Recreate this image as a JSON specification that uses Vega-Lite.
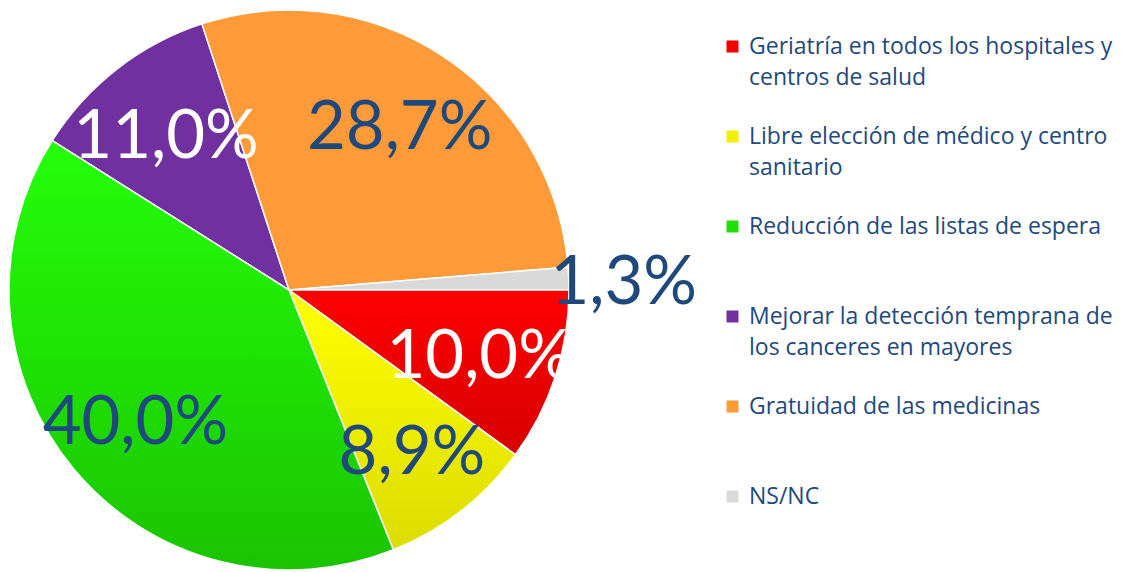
{
  "$schema": "https://vega.github.io/schema/vega-lite/v6.json",
  "width": 578,
  "height": 560,
  "autosize": {"type": "none"},
  "padding": {"left": 0, "top": 10, "right": 548, "bottom": 2},
  "background": "white",
  "data": {
    "values": [
      {"categoria": "Geriatría en todos los hospitales y centros de salud", "valor": 10.0, "etiqueta": "10,0%", "orden": 1},
      {"categoria": "Libre elección de médico y centro sanitario", "valor": 8.9, "etiqueta": "8,9%", "orden": 2},
      {"categoria": "Reducción de las listas de espera", "valor": 40.0, "etiqueta": "40,0%", "orden": 3},
      {"categoria": "Mejorar la detección temprana de los canceres en mayores", "valor": 11.0, "etiqueta": "11,0%", "orden": 4},
      {"categoria": "Gratuidad de las medicinas", "valor": 28.7, "etiqueta": "28,7%", "orden": 5},
      {"categoria": "NS/NC", "valor": 1.3, "etiqueta": "1,3%", "orden": 6}
    ]
  },
  "encoding": {
    "theta": {"field": "valor", "type": "quantitative", "stack": true, "scale": {"range": [1.5707963, 7.8539816]}},
    "order": {"field": "orden", "type": "quantitative"}
  },
  "layer": [
    {
      "mark": {"type": "arc", "outerRadius": 280, "stroke": "white", "strokeWidth": 1.5},
      "encoding": {
        "color": {
          "field": "categoria",
          "type": "nominal",
          "sort": ["Geriatría en todos los hospitales y centros de salud", "Libre elección de médico y centro sanitario", "Reducción de las listas de espera", "Mejorar la detección temprana de los canceres en mayores", "Gratuidad de las medicinas", "NS/NC"],
          "scale": {
            "domain": ["Geriatría en todos los hospitales y centros de salud", "Libre elección de médico y centro sanitario", "Reducción de las listas de espera", "Mejorar la detección temprana de los canceres en mayores", "Gratuidad de las medicinas", "NS/NC"],
            "range": ["#F40000", "#F0F000", "#1EE006", "#7030A0", "#FF9A38", "#D9D9D9"]
          },
          "legend": {
            "orient": "none",
            "legendX": 721,
            "legendY": 25,
            "direction": "vertical",
            "title": null,
            "padding": 0,
            "symbolType": "square",
            "symbolSize": 144,
            "symbolStrokeWidth": 0,
            "labelFont": "Open Sans",
            "labelFontSize": 23,
            "labelColor": "#1F497D",
            "labelLimit": 600,
            "labelOffset": 5,
            "labelBaseline": "middle",
            "rowPadding": 35,
            "labelExpr": "datum.label == 'Geriatría en todos los hospitales y centros de salud' ? ['Geriatría en todos los hospitales y', 'centros de salud'] : datum.label == 'Libre elección de médico y centro sanitario' ? ['Libre elección de médico y centro', 'sanitario'] : datum.label == 'Mejorar la detección temprana de los canceres en mayores' ? ['Mejorar la detección temprana de', 'los canceres en mayores'] : [datum.label, '']"
          }
        }
      }
    },
    {
      "mark": {"type": "arc", "outerRadius": 280, "stroke": "white", "strokeWidth": 1.5,
        "fill": {"gradient": "linear", "x1": 0, "y1": 0, "x2": 0, "y2": 1, "stops": [{"offset": 0, "color": "#FF0000"}, {"offset": 1, "color": "#D60000"}]}},
      "encoding": {"opacity": {"condition": {"test": "datum.orden == 1", "value": 1}, "value": 0}}
    },
    {
      "mark": {"type": "arc", "outerRadius": 280, "stroke": "white", "strokeWidth": 1.5,
        "fill": {"gradient": "linear", "x1": 0, "y1": 0, "x2": 0, "y2": 1, "stops": [{"offset": 0, "color": "#FFFF00"}, {"offset": 1, "color": "#DCDC00"}]}},
      "encoding": {"opacity": {"condition": {"test": "datum.orden == 2", "value": 1}, "value": 0}}
    },
    {
      "mark": {"type": "arc", "outerRadius": 280, "stroke": "white", "strokeWidth": 1.5,
        "fill": {"gradient": "linear", "x1": 0, "y1": 0, "x2": 0, "y2": 1, "stops": [{"offset": 0, "color": "#24FF0A"}, {"offset": 1, "color": "#1AC400"}]}},
      "encoding": {"opacity": {"condition": {"test": "datum.orden == 3", "value": 1}, "value": 0}}
    },
    {
      "mark": {"type": "text", "radius": 200, "dy": 6, "font": "Lato", "fontSize": 67},
      "encoding": {
        "text": {"condition": {"test": "datum.valor >= 5", "field": "etiqueta"}, "value": ""},
        "color": {"condition": {"test": "datum.orden == 1 || datum.orden == 4", "value": "white"}, "value": "#1F497D"}
      }
    },
    {
      "mark": {"type": "text", "radius": 335, "dy": 8, "font": "Lato", "fontSize": 67, "color": "#1F497D"},
      "encoding": {
        "text": {"condition": {"test": "datum.valor < 5", "field": "etiqueta"}, "value": ""}
      }
    }
  ],
  "config": {
    "view": {"stroke": null},
    "style": {"guide-label": {"lineHeight": 31}}
  }
}
